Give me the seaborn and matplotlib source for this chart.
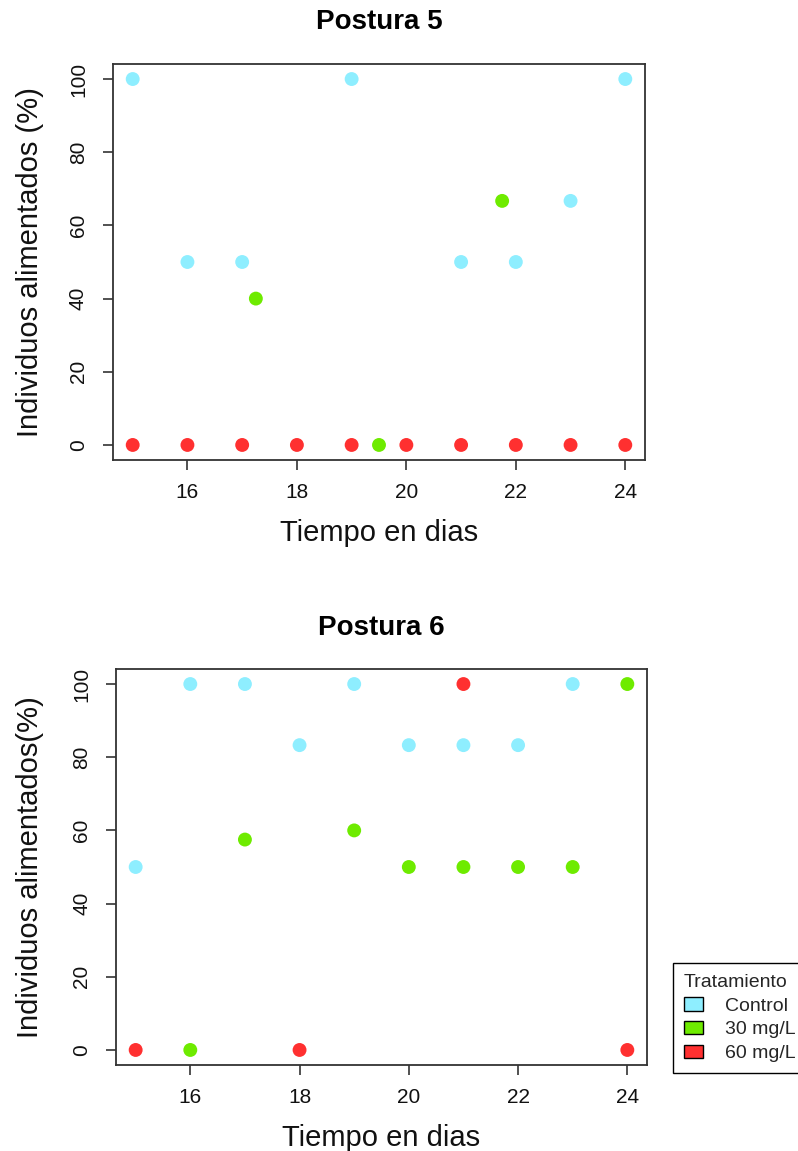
import matplotlib
matplotlib.use("Agg")
import matplotlib.pyplot as plt
import seaborn as sns
import pandas as pd
from matplotlib.patches import Patch

# ---- data ----
tratamientos = ["Control", "30 mg/L", "60 mg/L"]
colores = ["#8EEEFF", "#6EEB00", "#FF3030"]

# Postura 5
p5_control_x = [15, 16, 17, 19, 21, 22, 23, 24]
p5_control_y = [100, 50, 50, 100, 50, 50, 66.7, 100]
p5_30_x = [17.25, 19.5, 21.75]
p5_30_y = [40, 0, 66.7]
p5_60_x = [15, 16, 17, 18, 19, 20, 21, 22, 23, 24]
p5_60_y = [0, 0, 0, 0, 0, 0, 0, 0, 0, 0]

# Postura 6
p6_control_x = [15, 16, 17, 18, 19, 20, 21, 22, 23]
p6_control_y = [50, 100, 100, 83.3, 100, 83.3, 83.3, 83.3, 100]
p6_30_x = [16, 17, 19, 20, 21, 22, 23, 24]
p6_30_y = [0, 57.5, 60, 50, 50, 50, 50, 100]
p6_60_x = [15, 18, 21, 24]
p6_60_y = [0, 0, 100, 0]

x_ticks = [16, 18, 20, 22, 24]
y_ticks = [0, 20, 40, 60, 80, 100]


def build(cx, cy, gx, gy, rx, ry):
    frames = []
    for name, xs, ys in zip(tratamientos, [cx, gx, rx], [cy, gy, ry]):
        frames.append(pd.DataFrame({"dia": xs, "pct": ys, "trat": name}))
    return pd.concat(frames, ignore_index=True)


df5 = build(p5_control_x, p5_control_y, p5_30_x, p5_30_y, p5_60_x, p5_60_y)
df6 = build(p6_control_x, p6_control_y, p6_30_x, p6_30_y, p6_60_x, p6_60_y)

sns.set_theme(style="white")
plt.rcParams["font.family"] = ["Liberation Sans", "DejaVu Sans"]

W, H = 798, 1151
fig = plt.figure(figsize=(W / 100, H / 100), dpi=100)

panels = [
    (df5, "Postura 5", "Individuos alimentados (%)", (113, 64.4, 645, 459.6), 22),
    (df6, "Postura 6", "Individuos alimentados(%)", (116, 669.4, 647, 1064.6), 628),
]

palette = dict(zip(tratamientos, colores))

for df, title, ylab, (l, t, r, b), ty in panels:
    ax = fig.add_axes([l / W, 1 - b / H, (r - l) / W, (b - t) / H])
    sns.scatterplot(data=df, x="dia", y="pct", hue="trat", palette=palette,
                    hue_order=tratamientos, s=100, linewidth=0, legend=False,
                    ax=ax, zorder=3)
    ax.set_xlim(15 - 0.36, 24 + 0.36)
    ax.set_ylim(-4, 104)
    ax.set_xticks(x_ticks)
    ax.set_yticks(y_ticks)
    ax.set_xticklabels([str(v) for v in x_ticks], fontsize=15)
    ax.set_yticklabels([str(v) for v in y_ticks], fontsize=15, rotation=90,
                       va="center")
    ax.tick_params(axis="both", which="both", direction="out", length=7,
                   width=1.1, color="#222222", labelcolor="#111111",
                   bottom=True, left=True)
    ax.tick_params(axis="x", pad=10)
    ax.tick_params(axis="y", pad=11)
    for sp in ax.spines.values():
        sp.set_visible(True)
        sp.set_color("#333333")
        sp.set_linewidth(1.3)
    ax.set_xlabel("Tiempo en dias", fontsize=21, color="#111111")
    ax.xaxis.set_label_coords(0.5, -73 / (b - t))
    ax.xaxis.label.set_verticalalignment("center")
    ax.set_ylabel(ylab, fontsize=21, color="#111111")
    ax.yaxis.set_label_coords(-(l - 30) / (r - l), 0.5)
    ax.yaxis.label.set_verticalalignment("center")
    ax.grid(False)
    fig.text(((l + r) / 2) / W, 1 - ty / H, title, fontsize=20,
             fontweight="bold", ha="center", va="center", color="black")

handles = [Patch(facecolor=c, edgecolor="black", linewidth=1.0, label=n)
           for n, c in zip(tratamientos, colores)]
leg = fig.legend(handles=handles, title="Tratamiento", loc="upper left",
                 bbox_to_anchor=(673 / W, 1 - 963 / H), fontsize=14,
                 title_fontsize=14, frameon=True, fancybox=False,
                 edgecolor="black", framealpha=1, handlelength=1.0,
                 handleheight=0.7, handletextpad=1.1, labelspacing=0.32,
                 borderpad=0.55, borderaxespad=0, alignment="left")
leg.get_frame().set_linewidth(1.0)

fig.savefig("out.png", dpi=100)
